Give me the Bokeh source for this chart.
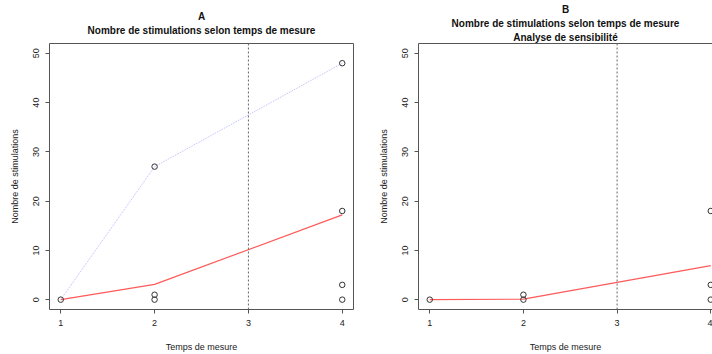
from bokeh.plotting import figure
from bokeh.models import Range1d, FixedTicker, Span, LinearAxis
from bokeh.layouts import row
from bokeh.embed import file_html
from bokeh.resources import INLINE

# ---------------- data ----------------
times = [1, 2, 3, 4]
y_ticks = [0, 10, 20, 30, 40, 50]

# Panel A: observed points
a_pts_x = [1, 2, 2, 2, 4, 4, 4, 4]
a_pts_y = [0, 27, 1, 0, 48, 18, 3, 0]
# Panel A: lines
a_blue_x = [1, 2, 4]
a_blue_y = [0, 27, 48]
a_red_x = [1, 2, 4]
a_red_y = [0, 3.1, 17.2]

# Panel B: observed points
b_pts_x = [1, 2, 2, 4, 4, 4]
b_pts_y = [0, 1, 0, 18, 3, 0]
b_red_x = [1, 2, 4]
b_red_y = [0, 0.1, 6.9]

title_a = ["A", "Nombre de stimulations selon temps de mesure"]
title_b = ["B", "Nombre de stimulations selon temps de mesure", "Analyse de sensibilité"]
xlab = "Temps de mesure"
ylab = "Nombre de stimulations"

FONT = "Liberation Sans"
AX = "#555555"
PX_PER_UNIT = 93.67


def make_panel(width, left, right, x_end, titles, standoffs, outline):
    p = figure(width=width, height=354, output_backend="svg", toolbar_location=None,
               x_range=Range1d(0.88, x_end), y_range=Range1d(-2, 52),
               min_border_left=left, min_border_right=right,
               min_border_top=43, min_border_bottom=41,
               background_fill_color="white", border_fill_color="white")
    p.xgrid.visible = False
    p.ygrid.visible = False
    if outline:
        p.outline_line_color = AX
        p.outline_line_width = 1
    else:
        p.outline_line_color = None
    for ax in (p.xaxis[0], p.yaxis[0]):
        ax.axis_line_color = AX if not outline else None
        ax.major_tick_line_color = AX
        ax.minor_tick_line_color = None
        ax.major_tick_in = 0
        ax.major_tick_out = 4
        ax.major_label_text_font = FONT
        ax.major_label_text_font_size = "9px"
        ax.major_label_text_color = "#222222"
        ax.major_label_standoff = 6
        ax.axis_label_text_font = FONT
        ax.axis_label_text_font_size = "9px"
        ax.axis_label_text_font_style = "normal"
        ax.axis_label_text_color = "#222222"
    p.xaxis[0].ticker = FixedTicker(ticks=times)
    p.yaxis[0].ticker = FixedTicker(ticks=y_ticks)
    p.yaxis[0].major_label_orientation = "vertical"
    p.yaxis[0].axis_label = ylab
    p.yaxis[0].axis_label_standoff = 11
    p.xaxis[0].axis_label = xlab
    p.xaxis[0].axis_label_standoff = 13

    # title lines, stacked outward from the frame as labels of blank top axes
    first = True
    for t, so in reversed(list(zip(titles, standoffs))):
        top = LinearAxis(ticker=FixedTicker(ticks=[]),
                         axis_line_color=(AX if (first and not outline) else None),
                         major_tick_line_color=None, minor_tick_line_color=None,
                         major_tick_in=0, major_tick_out=0,
                         minor_tick_in=0, minor_tick_out=0,
                         major_label_standoff=0,
                         axis_label=t, axis_label_standoff=so,
                         axis_label_text_font=FONT, axis_label_text_font_size="10px",
                         axis_label_text_font_style="bold",
                         axis_label_text_line_height=1.0,
                         axis_label_text_color="#111111")
        p.add_layout(top, "above")
        first = False

    p.add_layout(Span(location=3, dimension="height", line_color="#666666",
                      line_dash="2 2", line_width=1))
    return p


pa = make_panel(356, 49, 3, 4.12, title_a, [0, 8], True)
pa.line(a_blue_x, a_blue_y, line_color="#B8B8FF", line_width=1, line_dash="1 1")
pa.line(a_red_x, a_red_y, line_color="#FF5A5A", line_width=1.2)
pa.scatter(a_pts_x, a_pts_y, marker="circle", size=5.5, fill_color=None,
           line_color="#333333", line_width=1)

b_frame_w = 294
pb = make_panel(356, 62, 0, 0.88 + b_frame_w / PX_PER_UNIT, title_b, [0, 0, 1], False)
pb.line(b_red_x, b_red_y, line_color="#FF5A5A", line_width=1.2)
pb.scatter(b_pts_x, b_pts_y, marker="circle", size=5.5, fill_color=None,
           line_color="#333333", line_width=1)

layout = row(pa, pb)
open("out.html", "w").write(file_html(layout, INLINE))
